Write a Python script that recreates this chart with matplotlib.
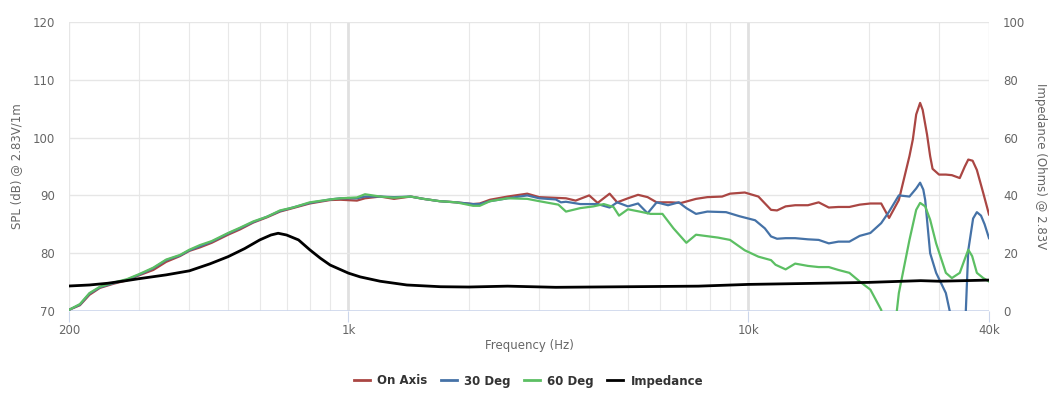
import matplotlib
matplotlib.use("Agg")
import matplotlib.pyplot as plt
from matplotlib.lines import Line2D

plt.rcParams['font.family'] = ['DejaVu Sans']

# ---------------- data ----------------
freq_low = [200, 213, 225, 239, 258, 279, 300, 325, 350, 379, 400, 425, 455, 500,
            535, 578, 625, 674, 726, 800, 900, 955, 1050, 1100, 1200, 1300, 1430,
            1540, 1690, 1860, 2050, 2130, 2260, 2500, 2800]

on_low = [70.2, 71.0, 72.8, 74.0, 74.7, 75.3, 76.2, 77.1, 78.5, 79.5, 80.4, 81.0,
          81.8, 83.2, 84.1, 85.3, 86.2, 87.2, 87.8, 88.6, 89.2, 89.25, 89.1, 89.5,
          89.8, 89.4, 89.8, 89.4, 89.0, 88.8, 88.5, 88.6, 89.25, 89.8, 90.3]
d30_low = [70.2, 71.1, 73.0, 74.1, 74.8, 75.4, 76.3, 77.4, 78.8, 79.6, 80.5, 81.2,
           82.0, 83.4, 84.3, 85.4, 86.3, 87.3, 87.9, 88.7, 89.3, 89.5, 89.5, 89.8,
           89.8, 89.7, 89.8, 89.4, 89.0, 88.8, 88.5, 88.5, 89.0, 89.5, 90.0]
d60_low = [70.2, 71.2, 73.1, 74.2, 74.9, 75.5, 76.4, 77.5, 78.9, 79.7, 80.6, 81.4,
           82.1, 83.5, 84.4, 85.5, 86.3, 87.4, 87.9, 88.8, 89.3, 89.5, 89.65, 90.2,
           89.8, 89.6, 89.8, 89.4, 89.0, 88.8, 88.2, 88.2, 89.0, 89.5, 89.4]

on_hf_freq = [3000, 3500, 3700, 4000, 4200, 4500, 4700, 5000, 5300, 5600, 5900,
              6400, 6800, 7400, 7900, 8600, 9000, 9800, 10600, 11400, 11800, 12400,
              13100, 14100, 15000, 15900, 16800, 17900, 19000, 20200, 21500, 22500,
              23800, 25300, 25800, 26300, 26900, 27300, 28000, 28500, 28900, 30000,
              31200, 32300, 33800, 34800, 35500, 36400, 37300, 38700, 40000]
on_hf = [89.7, 89.5, 89.1, 90.0, 88.7, 90.3, 88.8, 89.5, 90.1, 89.7, 88.8,
         88.8, 88.7, 89.4, 89.7, 89.8, 90.3, 90.5, 89.8, 87.5, 87.4, 88.1,
         88.3, 88.3, 88.8, 87.9, 88.0, 88.0, 88.4, 88.6, 88.6, 86.1,
         89.2, 96.8, 99.7, 104.0, 106.0, 104.8, 100.5, 96.8, 94.6, 93.6,
         93.6, 93.5, 93.0, 95.0, 96.2, 96.0, 94.4, 90.4, 86.7]

d30_hf_freq = [3000, 3300, 3400, 3500, 3800, 4200, 4500, 4700, 5000, 5300, 5600,
               5900, 6300, 6700, 7000, 7400, 7900, 8800, 9500, 10400, 11000, 11400,
               11800, 12400, 13100, 14100, 15000, 15900, 16800, 17900, 19000, 20200,
               21500, 22500, 23800, 25300, 26300, 26900, 27400, 27700, 28500, 29500,
               31200, 31900, 32800, 34000, 35000, 35500, 36500, 37300, 38200, 39000,
               40000]
d30_hf = [89.5, 89.3, 88.8, 88.9, 88.5, 88.5, 87.9, 88.8, 88.1, 88.6, 86.9,
          88.8, 88.3, 88.8, 87.8, 86.8, 87.2, 87.1, 86.4, 85.7, 84.3, 82.9,
          82.5, 82.6, 82.6, 82.4, 82.3, 81.7, 82.0, 82.0, 83.0, 83.5,
          85.2, 87.2, 90.0, 89.8, 91.2, 92.2, 91.0, 89.2, 80.0, 76.6,
          73.1, 70.0, 55.0, 55.0, 70.0, 80.5, 86.0, 87.1, 86.5, 85.0,
          82.6]

d60_hf_freq = [3000, 3350, 3500, 3800, 4100, 4350, 4600, 4750, 5000, 5350, 5700,
               6100, 6500, 7000, 7400, 8400, 9000, 9800, 10600, 11400, 11700, 12400,
               13100, 14100, 15000, 15900, 16800, 17900, 19000, 20200, 21500, 22200,
               23000, 23800, 25300, 26300, 26900, 27700, 28500, 29500, 31200, 32300,
               33800, 34800, 35500, 36300, 37300, 38700, 40000]
d60_hf = [89.0, 88.4, 87.2, 87.8, 88.1, 88.5, 88.0, 86.5, 87.6, 87.2, 86.8,
          86.8, 84.3, 81.8, 83.2, 82.7, 82.3, 80.5, 79.4, 78.8, 78.0, 77.2,
          78.2, 77.8, 77.6, 77.6, 77.1, 76.6, 75.1, 73.7, 70.2, 64.0,
          64.0, 73.1, 82.3, 87.5, 88.7, 88.1, 85.8, 81.7, 76.6, 75.7,
          76.6, 79.0, 80.6, 79.5, 76.6, 75.7, 75.1]

imp_freq = [200, 225, 250, 275, 300, 350, 400, 450, 500, 550, 600, 640, 667, 700,
            750, 800, 850, 900, 1000, 1070, 1200, 1400, 1700, 2000, 2500, 3300,
            5000, 7500, 10000, 15000, 20000, 27000, 30000, 40000]
imp_ohm = [8.65, 9.0, 9.6, 10.4, 11.2, 12.5, 13.9, 16.3, 18.8, 21.6, 24.6, 26.3,
           26.9, 26.3, 24.6, 21.2, 18.3, 15.9, 13.1, 11.8, 10.3, 9.0, 8.4, 8.3,
           8.6, 8.2, 8.4, 8.6, 9.2, 9.6, 9.9, 10.5, 10.3, 10.7]

series_names = ["On Axis", "30 Deg", "60 Deg", "Impedance"]
colors = ["#AA4643", "#4572A7", "#5CBF63", "#000000"]

# ---------------- figure ----------------
fig = plt.figure(figsize=(10.57, 3.93), dpi=100)
ax = fig.add_axes([69 / 1057, 1 - 311 / 393, 920 / 1057, 289 / 393])
ax2 = ax.twinx()

ax.set_xscale('log')
ax.set_xlim(200, 40000)
ax.set_ylim(70, 120)
ax2.set_ylim(0, 100)

# grid
minor_x = [300, 400, 500, 600, 700, 800, 900, 2000, 3000, 4000, 5000, 6000, 7000,
           8000, 9000, 20000, 30000]
for xv in minor_x:
    ax.axvline(xv, color="#e8e8e8", lw=0.8, zorder=0)
for xv in [200, 40000]:
    ax.axvline(xv, color="#e6e6e6", lw=1.0, zorder=0)
for xv in [1000, 10000]:
    ax.axvline(xv, color="#e0e0e0", lw=2.0, zorder=0)
for yv in [80, 90, 100, 110, 120]:
    ax.axhline(yv, color="#e6e6e6", lw=1.0, zorder=0)

for a in (ax, ax2):
    for s in ['top', 'left', 'right', 'bottom']:
        a.spines[s].set_visible(False)
ax.axhline(70, color="#ccd6eb", lw=1.2, zorder=1)

ax.set_xticks([200, 1000, 10000, 40000])
ax.set_xticklabels(["200", "1k", "10k", "40k"])
ax.xaxis.set_minor_locator(matplotlib.ticker.NullLocator())
ax.tick_params(axis='x', length=8, color="#ccd6eb", labelsize=8.5, labelcolor="#666666", pad=1)
ax.set_yticks([70, 80, 90, 100, 110, 120])
ax.tick_params(axis='y', length=0, labelsize=8.5, labelcolor="#666666", pad=10)
ax2.set_yticks([0, 20, 40, 60, 80, 100])
ax2.tick_params(axis='y', length=0, labelsize=8.5, labelcolor="#666666", pad=10)
ax2.xaxis.set_visible(False)

ax.set_xlabel("Frequency (Hz)", fontsize=8.5, color="#666666")
ax.xaxis.set_label_coords(0.5, -(346 - 311) / 289, transform=ax.transAxes)
ax.xaxis.label.set_va('center')
ax.set_ylabel("SPL (dB) @ 2.83V/1m", fontsize=8.5, color="#666666")
ax.yaxis.set_label_coords(-(69 - 17) / 920, 0.5)
ax.yaxis.label.set_va('center')
ax2.set_ylabel("Impedance (Ohms) @ 2.83V", fontsize=8.5, color="#666666", rotation=270)
ax2.yaxis.set_label_coords((1040 - 69) / 920, 0.5)
ax2.yaxis.label.set_va('center')

# series
ax.plot(freq_low + on_hf_freq, on_low + on_hf, color=colors[0], lw=1.6, zorder=3,
        solid_joinstyle='round')
ax.plot(freq_low + d30_hf_freq, d30_low + d30_hf, color=colors[1], lw=1.6, zorder=4,
        solid_joinstyle='round')
ax.plot(freq_low + d60_hf_freq, d60_low + d60_hf, color=colors[2], lw=1.6, zorder=5,
        solid_joinstyle='round')
ax2.plot(imp_freq, imp_ohm, color=colors[3], lw=2.0, zorder=6, solid_joinstyle='round')

# legend
handles = [Line2D([0], [0], color=c, lw=2) for c in colors]
leg = fig.legend(handles, series_names, loc='center', bbox_to_anchor=(0.5, 1 - 381 / 393),
                 ncol=4, frameon=False, handlelength=1.4, handletextpad=0.6,
                 columnspacing=1.1, prop={'size': 8.5, 'weight': 'bold'})
for t in leg.get_texts():
    t.set_color("#333333")

fig.savefig("out.png", dpi=100)
